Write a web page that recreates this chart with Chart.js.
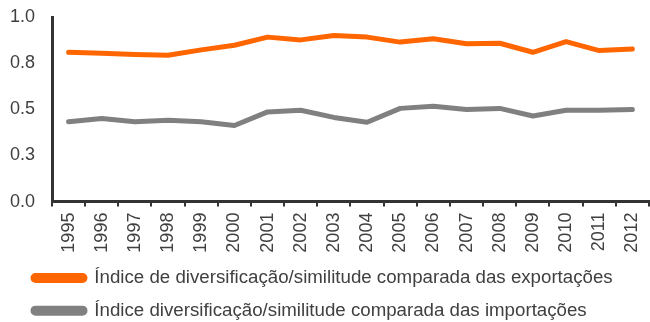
<!DOCTYPE html>
<html>
<head>
<meta charset="utf-8">
<script src="https://cdn.jsdelivr.net/npm/chart.js@4/dist/chart.umd.min.js"></script>
<style>
  html, body { margin: 0; padding: 0; background: #fff; overflow: hidden; }
  #wrap { position: relative; width: 660px; height: 330px; }
</style>
</head>
<body>
<div id="wrap"><canvas id="grafico"></canvas></div>
<script>
// Anos e índices
const anos = ['1995', '1996', '1997', '1998', '1999', '2000', '2001', '2002', '2003',
  '2004', '2005', '2006', '2007', '2008', '2009', '2010', '2011', '2012'];

const exportacoes = [0.809, 0.804, 0.797, 0.793, 0.822, 0.847, 0.891, 0.876, 0.900,
  0.891, 0.864, 0.882, 0.855, 0.858, 0.809, 0.867, 0.818, 0.827];

const importacoes = [0.432, 0.450, 0.432, 0.441, 0.432, 0.412, 0.486, 0.495, 0.456,
  0.430, 0.505, 0.517, 0.499, 0.505, 0.464, 0.495, 0.495, 0.499];

const nomeExp = 'Índice de diversificação/similitude comparada das exportações';
const nomeImp = 'Índice diversificação/similitude comparada das importações';

const familia = "'Liberation Sans', Arial, sans-serif";
const corTexto = '#404040';
const corEixo = '#333333';

// empurra a legenda um pouco para a direita, sem mexer no eixo y
const recuoLegenda = {
  id: 'recuoLegenda',
  afterLayout(chart) {
    if (chart.legend) {
      chart.legend.left += 11;
      chart.legend.right += 11;
    }
  }
};

const ctx = document.getElementById('grafico').getContext('2d');
new Chart(ctx, {
  type: 'line',
  data: {
    labels: anos,
    datasets: [
      {
        label: nomeExp,
        data: exportacoes,
        borderColor: '#ff6600',
        backgroundColor: '#ff6600',
        borderWidth: 5,
        pointRadius: 0,
        borderCapStyle: 'round',
        borderJoinStyle: 'round',
        tension: 0
      },
      {
        label: nomeImp,
        data: importacoes,
        borderColor: '#808080',
        backgroundColor: '#808080',
        borderWidth: 5,
        pointRadius: 0,
        borderCapStyle: 'round',
        borderJoinStyle: 'round',
        tension: 0
      }
    ]
  },
  plugins: [recuoLegenda],
  options: {
    responsive: true,
    maintainAspectRatio: false,
    animation: false,
    layout: { padding: { left: 8, top: 17, right: 0, bottom: 0 } },
    plugins: {
      tooltip: { enabled: false },
      legend: {
        position: 'bottom',
        align: 'start',
        labels: {
          font: { family: familia, size: 18.7 },
          color: corTexto,
          boxWidth: 52,
          boxHeight: 5,
          padding: 14,
          useBorderRadius: true,
          borderRadius: 2.5
        }
      }
    },
    scales: {
      x: {
        offset: true,
        grid: {
          offset: true,
          drawOnChartArea: false,
          drawTicks: true,
          tickLength: 5,
          color: corEixo,
          lineWidth: 2
        },
        border: { display: true, color: corEixo, width: 3 },
        ticks: {
          font: { family: familia, size: 18 },
          color: corTexto,
          minRotation: 90,
          maxRotation: 90,
          padding: 6,
          autoSkip: false
        },
        afterFit(scale) { scale.height = 53; }
      },
      y: {
        min: 0,
        max: 1,
        grid: { display: false, drawTicks: false },
        border: { display: true, color: corEixo, width: 3 },
        ticks: {
          stepSize: 0.25,
          font: { family: familia, size: 18 },
          color: corTexto,
          padding: 17,
          callback: (v) => v.toFixed(1)
        },
        afterFit(scale) {
          scale.width = 44;
          // o recuo dos rótulos não deve empurrar a área do gráfico
          scale.paddingTop = 0;
          scale.paddingBottom = 0;
        }
      }
    }
  }
});
</script>
</body>
</html>
